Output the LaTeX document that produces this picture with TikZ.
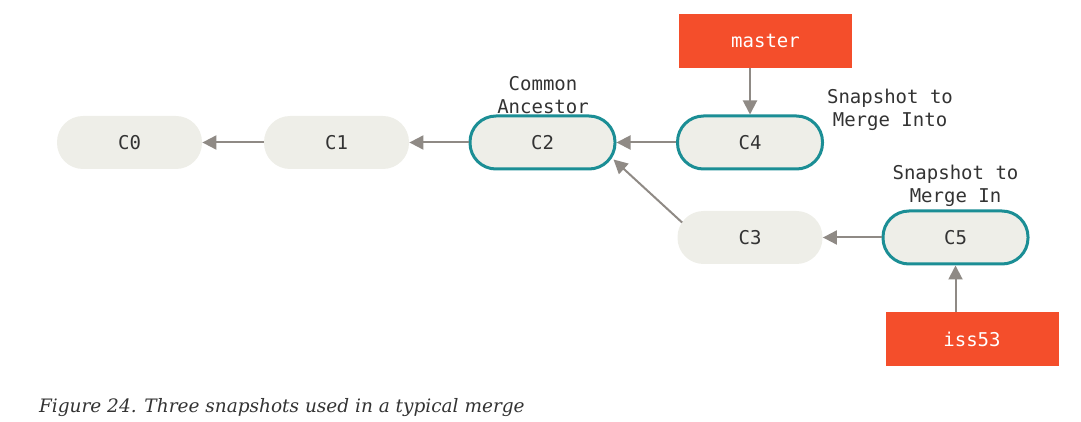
\documentclass[tikz,border=0pt]{standalone}
\usepackage{fontspec}
\setmonofont{DejaVu Sans Mono}
\newfontfamily\captionfont{DejaVu Serif}
\usetikzlibrary{arrows.meta}
\definecolor{commitfill}{HTML}{EEEEE8}
\definecolor{snapteal}{HTML}{1B8E95}
\definecolor{refred}{HTML}{F44E2B}
\definecolor{arrowgray}{HTML}{8F8A85}
\definecolor{inkgray}{HTML}{333333}
\tikzset{
    commit/.style={fill=commitfill,rounded corners=13pt,minimum width=72.5pt,minimum height=26.5pt,
        text=inkgray,font=\ttfamily\fontsize{9.5}{11}\selectfont},
    snapshot/.style={commit,draw=snapteal,line width=1.5pt},
    branchref/.style={fill=refred,minimum width=86.5pt,minimum height=27pt,text=white,
        font=\ttfamily\fontsize{9.5}{11}\selectfont},
    note/.style={align=center,text=inkgray,font=\ttfamily\fontsize{9.5}{11.5}\selectfont},
    parent/.style={draw=arrowgray,line width=1pt,-{Triangle[length=7pt,width=7pt]}}
}
\begin{document}
\begin{tikzpicture}[x=0.5pt,y=-0.5pt]
\useasboundingbox (0,0) rectangle (1081,422);
\node[commit] at (129.5,142.5)(c0){C0};
\node[commit] at (336.5,142.5)(c1){C1};
\node[snapshot] at (542.5,142.5)(c2){C2};
\node[snapshot] at (750,142.5)(c4){C4};
\node[commit] at (750,237.5)(c3){C3};
\node[snapshot] at (955.5,237.5)(c5){C5};
\node[branchref] at (765.5,41)(master){master};
\node[branchref] at (972,339)(iss53){iss53};

\node[note] at (543,95)(ancestor){Common\\Ancestor};
\node[note] at (890,110)(into){Snapshot to\\Merge Into};
\node[note] at (955.5,186)(in){Snapshot to\\Merge In};

\draw[parent] (c1) -- (c0);
\draw[parent] (c2) -- (c1);
\draw[parent] (c4) -- (c2);
\draw[parent] ([xshift=2.5pt,yshift=7.5pt]c3.west) -- ([xshift=-1.5pt,yshift=-8.5pt]c2.east);
\draw[parent] (c5) -- (c3);
\draw[parent] (master.south -| c4) -- (c4);
\draw[parent] (iss53.north -| c5) -- (c5);

\node[anchor=west,text=inkgray,font=\captionfont\itshape\fontsize{9.25}{11}\selectfont] at (32,408)(caption){Figure 24. Three snapshots used in a typical merge};
\end{tikzpicture}
\end{document}
